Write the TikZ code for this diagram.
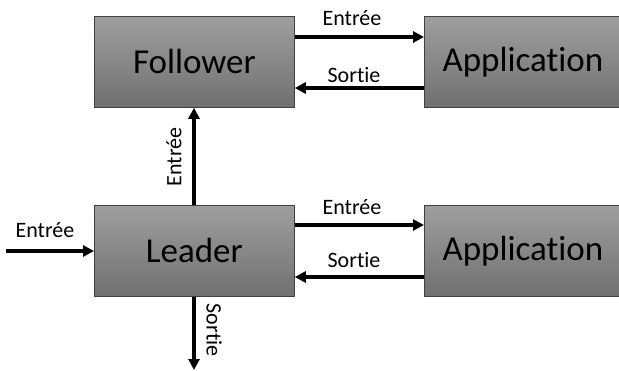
\documentclass[tikz,border=0pt]{standalone}
\usepackage{fontspec}
\setmainfont{Carlito}[Ligatures=NoCommon]
\usetikzlibrary{arrows.meta}
\begin{document}
\begin{tikzpicture}[x=1pt,y=-1pt,
  box/.style={draw=black!75,line width=0.8pt,top color=black!38,bottom color=black!56,
    minimum width=200pt,minimum height=91pt,inner sep=0pt,font=\fontsize{35}{40}\selectfont,anchor=north west},
  conn/.style={line width=3.2pt,-{Triangle[length=11pt,width=11pt]}},
  lbl/.style={font=\fontsize{22}{26}\selectfont,inner sep=0pt}]
\useasboundingbox (0,0) rectangle (619,370);
\node[box] (fol) at (94,16) {Follower};
\node[box] (lea) at (94,205) {Leader};
\node[box,minimum width=197pt] (app1) at (424,16) {Application};
\node[box,minimum width=197pt] (app2) at (424,205) {Application};
\coordinate (in) at (6,251);
\coordinate (out) at (194,370);
% top pair
\draw[conn] (fol.east |- 0,37) -- (app1.west |- 0,37);
\node[lbl] (l1) at (352,18) {Entrée};
\draw[conn] (app1.west |- 0,88) -- (fol.east |- 0,88);
\node[lbl] (l2) at (354,75) {Sortie};
% bottom pair
\draw[conn] (lea.east |- 0,225) -- (app2.west |- 0,225);
\node[lbl] (l3) at (352,207) {Entrée};
\draw[conn] (app2.west |- 0,277) -- (lea.east |- 0,277);
\node[lbl] (l4) at (354,260) {Sortie};
% leader input
\draw[conn] (in) -- (lea.west |- in);
\node[lbl] (l5) at (45,230) {Entrée};
% vertical
\draw[conn] (lea.north -| out) -- (fol.south -| out);
\node[lbl,rotate=90] (l6) at (174,157) {Entrée};
\draw[conn] (lea.south -| out) -- (out);
\node[lbl,rotate=-90] (l7) at (214,330) {Sortie};
\end{tikzpicture}
\end{document}
